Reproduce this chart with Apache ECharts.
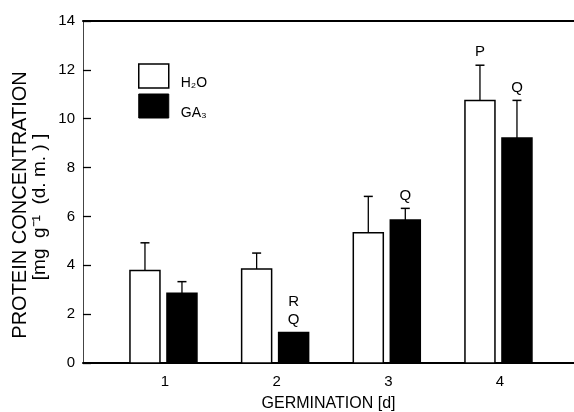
<!DOCTYPE html>
<html>
<head>
<meta charset="utf-8">
<script src="https://cdn.jsdelivr.net/npm/echarts@6/dist/echarts.min.js"></script>
<style>html,body{margin:0;padding:0;background:#fff}#c{width:574px;height:412px}</style>
</head>
<body>
<div id="c"></div>
<script>
// Data
var days = [1, 2, 3, 4];
var h2oMean = [3.79, 3.85, 5.33, 10.75];
var h2oErr = [1.13, 0.65, 1.49, 1.44];
var h2oLabels = ['', '', '', 'P'];
var ga3Mean = [2.86, 1.25, 5.85, 9.21];
var ga3Err = [0.47, 0, 0.48, 1.54];
var ga3Labels = ['', 'R\nQ', 'Q', 'Q'];
var yTicks = [0, 2, 4, 6, 8, 10, 12, 14];
var xTickLabels = ['1', '2', '3', '4'];

var FONT = 'Liberation Sans, Arial, sans-serif';
var chart = echarts.init(document.getElementById('c'), null, {renderer: 'canvas'});

function makeRender(offsetPx, filled, labels) {
  return function (params, api) {
    var x = api.value(0), v = api.value(1), e = api.value(2);
    var top = api.coord([x, v]);
    var base = api.coord([x, 0]);
    var cx = top[0] + offsetPx;
    var w = 30;
    var children = [{
      type: 'rect',
      shape: {x: cx - w / 2, y: top[1], width: w, height: base[1] - top[1]},
      style: {fill: filled ? '#000' : '#fff', stroke: '#000', lineWidth: 1.5}
    }];
    var labelY = top[1];
    if (e > 0) {
      var et = api.coord([x, v + e]);
      labelY = et[1];
      children.push({type: 'line', shape: {x1: cx, y1: top[1], x2: cx, y2: et[1]}, style: {stroke: '#000', lineWidth: 1.3}});
      children.push({type: 'line', shape: {x1: cx - 4.5, y1: et[1], x2: cx + 4.5, y2: et[1]}, style: {stroke: '#000', lineWidth: 1.5}});
    }
    var lbl = labels[params.dataIndex];
    if (lbl) {
      children.push({
        type: 'text',
        style: {text: lbl, x: cx, y: labelY - 4, align: 'center', verticalAlign: 'bottom',
          font: '15px ' + FONT, fill: '#000', lineHeight: 18}
      });
    }
    return {type: 'group', children: children};
  };
}

var option = {
  animation: false,
  backgroundColor: '#fff',
  grid: {left: 83, right: 0, top: 21, bottom: 49, outerBoundsMode: 'none', containLabel: false},
  legend: {
    orient: 'vertical',
    left: 138, top: 62, padding: 0,
    itemWidth: 30, itemHeight: 24, itemGap: 2,
    formatter: function (name) { return '\n' + name; },
    textStyle: {fontFamily: FONT, fontSize: 14, color: '#000', lineHeight: 14, padding: [0, 0, 0, 7]},
    data: [
      {name: 'H₂O', icon: 'rect', itemStyle: {color: '#fff', borderColor: '#000', borderWidth: 1.5}},
      {name: 'GA₃', icon: 'rect', itemStyle: {color: '#000', borderColor: '#000', borderWidth: 1}}
    ],
    selectedMode: false
  },
  xAxis: [{
    type: 'value', position: 'bottom',
    min: 0.266, max: 4.663,
    axisLine: {show: true, lineStyle: {color: '#000', width: 2}},
    axisTick: {show: false},
    splitLine: {show: false},
    axisLabel: {customValues: days, formatter: function (v) { return xTickLabels[days.indexOf(v)]; },
      fontFamily: FONT, fontSize: 15, color: '#000', margin: 11},
    name: 'GERMINATION [d]', nameLocation: 'middle', nameGap: 33,
    nameTextStyle: {fontFamily: FONT, fontSize: 16, color: '#000'}
  }, {
    type: 'value', position: 'top',
    min: 0.266, max: 4.663,
    axisLine: {show: true, lineStyle: {color: '#000', width: 2}},
    axisTick: {show: false}, axisLabel: {show: false}, splitLine: {show: false}
  }],
  yAxis: {
    type: 'value', min: 0, max: 14, interval: 2,
    axisLine: {show: true, lineStyle: {color: '#444', width: 1}},
    axisTick: {show: true, inside: true, length: 8, lineStyle: {color: '#000', width: 1.3}, customValues: yTicks},
    splitLine: {show: false},
    axisLabel: {fontFamily: FONT, fontSize: 15, color: '#000', margin: 8, customValues: yTicks}
  },
  graphic: [
    {type: 'text', x: 20, y: 205, rotation: Math.PI / 2,
      style: {text: 'PROTEIN CONCENTRATION', font: '20px ' + FONT, fill: '#000', align: 'center', verticalAlign: 'middle'}},
    {type: 'text', x: 40, y: 207, rotation: Math.PI / 2,
      style: {text: '[mg  g⁻¹  (d. m. ) ]', font: '19px ' + FONT, fill: '#000', align: 'center', verticalAlign: 'middle'}}
  ],
  series: [{
    name: 'H₂O', type: 'custom', xAxisIndex: 0,
    itemStyle: {color: '#fff', borderColor: '#000'},
    renderItem: makeRender(-20, false, h2oLabels),
    data: days.map(function (d, i) { return [d, h2oMean[i], h2oErr[i]]; }),
    encode: {x: 0, y: [1]}
  }, {
    name: 'GA₃', type: 'custom', xAxisIndex: 0,
    itemStyle: {color: '#000'},
    renderItem: makeRender(17, true, ga3Labels),
    data: days.map(function (d, i) { return [d, ga3Mean[i], ga3Err[i]]; }),
    encode: {x: 0, y: [1]}
  }]
};
chart.setOption(option);
</script>
</body>
</html>
